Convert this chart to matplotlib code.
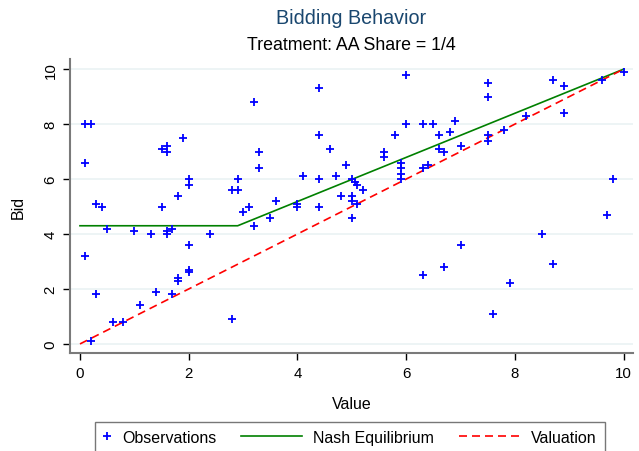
import matplotlib
matplotlib.use('Agg')
import matplotlib.pyplot as plt
from matplotlib.legend_handler import HandlerLine2D

plt.rcParams['font.family'] = ['Liberation Sans', 'DejaVu Sans']

value = [0.1, 0.2, 0.1, 0.1, 0.3, 0.4, 0.5, 0.3, 0.2, 0.6, 0.8, 1.1, 1.4, 1.7, 1.8, 1.8,
         2.0, 2.0, 2.0, 1.0, 1.3, 1.6, 1.6, 1.7, 2.4, 2.8, 1.5, 1.8, 2.8, 2.9, 3.0, 3.1,
         3.2, 1.5, 1.6, 1.6, 1.9, 2.0, 2.0, 2.9, 3.2, 3.3, 3.3, 4.4, 6.0, 4.4, 4.6, 4.9,
         4.1, 4.4, 4.7, 5.0, 5.05, 5.1, 5.2, 4.8, 5.0, 5.0, 3.6, 4.0, 4.0, 4.4, 6.0, 6.3,
         6.5, 5.8, 5.6, 5.6, 6.6, 6.6, 6.7, 6.8, 5.9, 5.9, 5.9, 5.9, 6.3, 6.4, 5.1, 5.0,
         3.5, 6.3, 6.7, 7.5, 7.5, 8.7, 8.9, 9.6, 10.0, 8.9, 6.9, 8.2, 7.8, 7.5, 7.5, 7.0,
         9.8, 9.7, 8.5, 7.0, 8.7, 7.9, 7.6]
bid = [8.0, 8.0, 6.6, 3.2, 5.1, 5.0, 4.2, 1.8, 0.1, 0.8, 0.8, 1.4, 1.9, 1.8, 2.4, 2.3,
       2.7, 2.6, 3.6, 4.1, 4.0, 4.0, 4.1, 4.2, 4.0, 0.9, 5.0, 5.4, 5.6, 5.6, 4.8, 5.0,
       4.3, 7.1, 7.2, 7.0, 7.5, 6.0, 5.8, 6.0, 8.8, 7.0, 6.4, 9.3, 9.8, 7.6, 7.1, 6.5,
       6.1, 6.0, 6.1, 6.0, 5.9, 5.8, 5.6, 5.4, 5.4, 5.2, 5.2, 5.1, 5.0, 5.0, 8.0, 8.0,
       8.0, 7.6, 7.0, 6.8, 7.6, 7.1, 7.0, 7.7, 6.6, 6.4, 6.2, 6.0, 6.4, 6.5, 5.1, 4.6,
       4.6, 2.5, 2.8, 9.5, 9.0, 9.6, 9.4, 9.6, 9.9, 8.4, 8.1, 8.3, 7.8, 7.6, 7.4, 7.2,
       6.0, 4.7, 4.0, 3.6, 2.9, 2.2, 1.1]

# equilibrium bid function and valuation line
nash_x = [0, 2.9, 10]
nash_y = [4.3, 4.3, 10]
val_x = [0, 10]
val_y = [0, 10]


class LongLine(HandlerLine2D):
    # legend line that reaches back past the (short) handle box
    def get_xdata(self, legend, xdescent, ydescent, width, height, fontsize):
        x1 = -xdescent + width
        x0 = x1 - 44
        return [x0, x1], [x0, x1]


fig = plt.figure(figsize=(6.39, 4.52), dpi=100)
ax = fig.add_axes([0.1095, 0.2168, 0.8811, 0.650])

obs, = ax.plot(value, bid, linestyle='none', marker='+', color='blue', markersize=5.5,
               markeredgewidth=1.3, label='Observations', zorder=3)
nash, = ax.plot(nash_x, nash_y, color='green', linewidth=1.2, label='Nash Equilibrium', zorder=2)
val, = ax.plot(val_x, val_y, color='red', linewidth=1.2, linestyle=(0, (4.8, 3)),
               label='Valuation', zorder=2)

ax.set_xlim(-0.184, 10.17)
ax.set_ylim(-0.33, 10.36)
ax.set_xticks([0, 2, 4, 6, 8, 10])
ax.set_yticks([0, 2, 4, 6, 8, 10])
ax.set_yticklabels(['0', '2', '4', '6', '8', '10'], rotation=90, va='center')
ax.tick_params(direction='out', length=5, width=1, colors='black', labelsize=10.8, pad=4)
ax.grid(axis='y', color='#eaf2f3', linewidth=1.2)
ax.set_axisbelow(True)
for s in ['top', 'right']:
    ax.spines[s].set_visible(False)
for s in ['left', 'bottom']:
    ax.spines[s].set_color('#7a7a7a')
    ax.spines[s].set_linewidth(1.5)

ax.set_xlabel('Value', fontsize=11.5, labelpad=12)
ax.set_ylabel('Bid', fontsize=11.5, labelpad=13)

fig.text(0.55, 0.958, 'Bidding Behavior', ha='center', va='center', fontsize=14.2, color='#1a476f')
fig.text(0.55, 0.900, 'Treatment: AA Share = 1/4', ha='center', va='center', fontsize=12.8, color='black')

leg = fig.legend(handles=[obs, nash, val], loc='upper left', bbox_to_anchor=(95 / 639, 1 - 423 / 452),
                 borderaxespad=0, ncol=3, fontsize=11.5, frameon=True, fancybox=False,
                 edgecolor='#555555', handlelength=0.5, handletextpad=0.69, columnspacing=4.88,
                 borderpad=0.5, numpoints=1,
                 handler_map={nash: LongLine(), val: LongLine()})
leg.get_frame().set_linewidth(1.0)

fig.savefig('out.png', dpi=100)
